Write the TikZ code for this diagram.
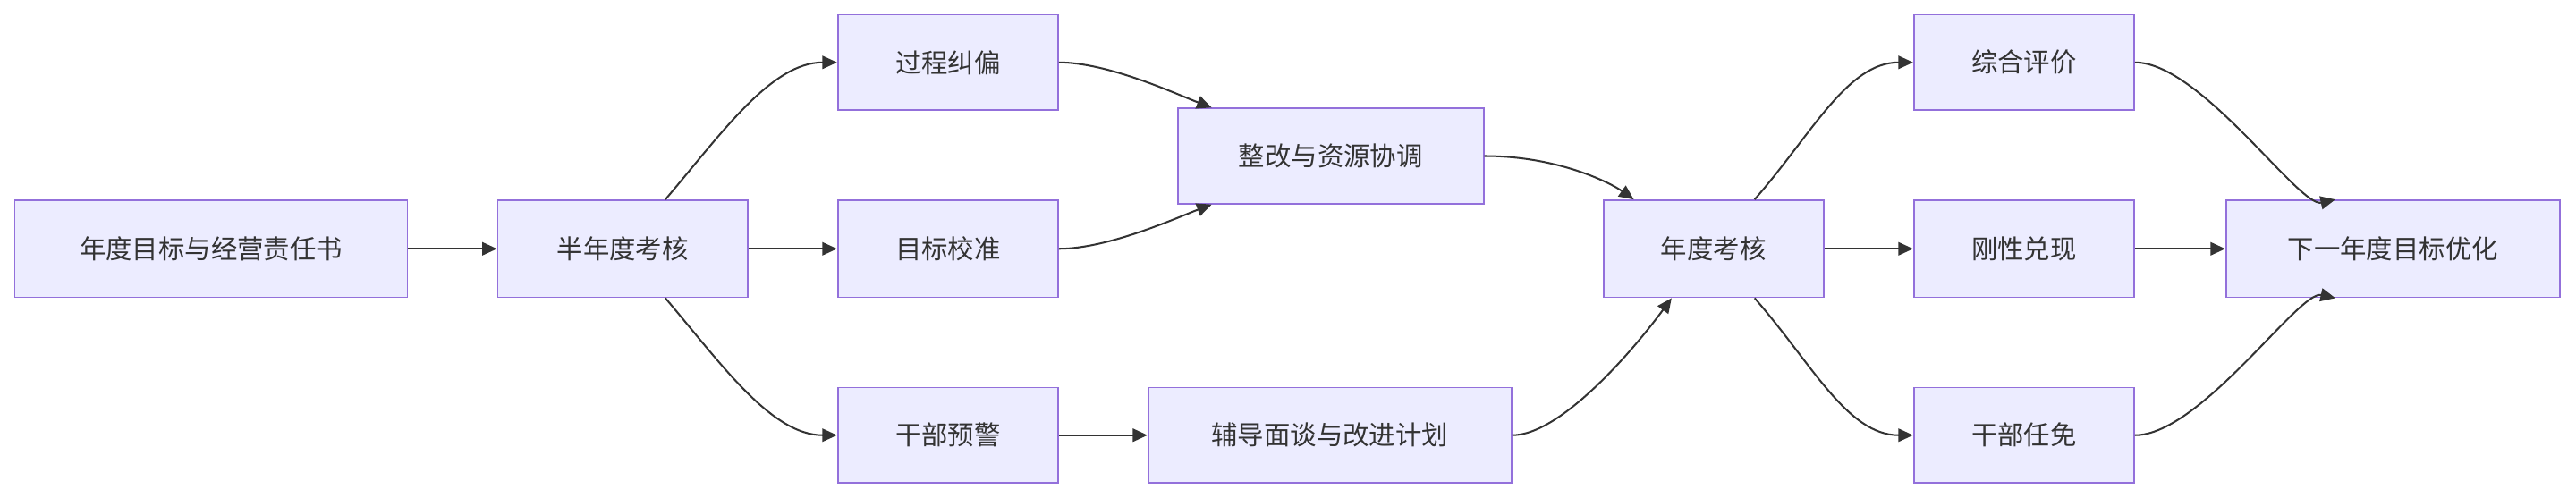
\documentclass[tikz,border=0pt]{standalone}
\usepackage{fontspec}
\setmainfont{Noto Sans CJK SC}
\usetikzlibrary{arrows.meta,calc}
\definecolor{boxfill}{HTML}{ECECFF}
\definecolor{boxline}{HTML}{9370DB}
\definecolor{lnk}{HTML}{333333}
\begin{document}
\begin{tikzpicture}[x=1pt,y=1pt,
  box/.style={draw=boxline,fill=boxfill,line width=1pt,inner sep=0pt,font=\fontsize{16}{16}\selectfont,text=lnk},
  lk/.style={draw=lnk,line width=1.1pt,-{Triangle[length=9pt,width=8pt]}}]
\useasboundingbox (0,0) rectangle (1568,-303);
\newcommand{\bx}[6]{\node[box,minimum width={#4-#2},minimum height={#5-#3}] (#1) at ({(#2+#4)/2},{-(#3+#5)/2}) {#6};}
\bx{A}{9}{122}{248}{181}{年度目标与经营责任书}
\bx{B}{303}{122}{455}{181}{半年度考核}
\bx{C}{510}{9}{644}{67}{过程纠偏}
\bx{D}{510}{122}{644}{181}{目标校准}
\bx{E}{510}{236}{644}{294}{干部预警}
\bx{F}{717}{66}{903}{124}{整改与资源协调}
\bx{G}{699}{236}{920}{294}{辅导面谈与改进计划}
\bx{H}{976}{122}{1110}{181}{年度考核}
\bx{I}{1165}{9}{1299}{67}{综合评价}
\bx{J}{1165}{122}{1299}{181}{刚性兑现}
\bx{K}{1165}{236}{1299}{294}{干部任免}
\bx{L}{1355}{122}{1558}{181}{下一年度目标优化}
\draw[lk] (A) -- (B);
\draw[lk] (B) -- (D);
\draw[lk] (E) -- (G);
\draw[lk] (H) -- (J);
\draw[lk] (J) -- (L);
\draw[lk] ($(B.north)+(26,0)$) .. controls ($(B.north)+(60,40)$) and ($(C.west)+(-40,0)$) .. (C.west);
\draw[lk] ($(B.south)+(26,0)$) .. controls ($(B.south)+(60,-40)$) and ($(E.west)+(-40,0)$) .. (E.west);
\draw[lk] (C.east) .. controls ($(C.east)+(30,0)$) and ($(F.north west)+(0,8)$) .. ($(F.north west)+(21,0)$);
\draw[lk] (D.east) .. controls ($(D.east)+(30,0)$) and ($(F.south west)+(0,-8)$) .. ($(F.south west)+(21,0)$);
\draw[lk] (F.east) .. controls ($(F.east)+(45,0)$) and ($(H.north west)+(5,10)$) .. ($(H.north west)+(19,0)$);
\draw[lk] (G.east) .. controls ($(G.east)+(30,0)$) and ($(H.south west)+(20,-30)$) .. ($(H.south west)+(42,0)$);
\draw[lk] ($(H.north)+(25,0)$) .. controls ($(H.north)+(60,40)$) and ($(I.west)+(-40,0)$) .. (I.west);
\draw[lk] ($(H.south)+(25,0)$) .. controls ($(H.south)+(60,-40)$) and ($(K.west)+(-40,0)$) .. (K.west);
\draw[lk] (I.east) .. controls ($(I.east)+(40,0)$) and ($(L.north west)+(45,-5)$) .. ($(L.north west)+(67,0)$);
\draw[lk] (K.east) .. controls ($(K.east)+(40,0)$) and ($(L.south west)+(45,5)$) .. ($(L.south west)+(67,0)$);
\end{tikzpicture}
\end{document}
